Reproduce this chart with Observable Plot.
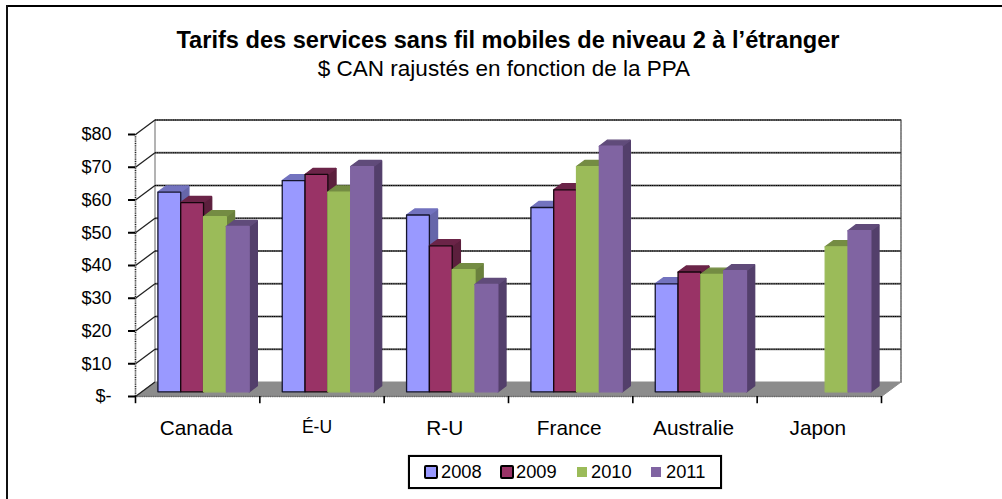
<!DOCTYPE html>
<html lang="fr">
<head>
<meta charset="utf-8">
<script src="https://cdn.jsdelivr.net/npm/d3@7"></script>
<script src="https://cdn.jsdelivr.net/npm/@observablehq/plot@0.6"></script>
<style>
  html, body { margin: 0; padding: 0; background: #fff; }
  body { width: 1002px; height: 499px; overflow: hidden; position: relative; font-family: "Liberation Sans", Arial, sans-serif; color: #000; }
  #edgeTop { position: absolute; left: 6px; right: 0; top: 5px; height: 2px; background: #000; }
  #edgeLeft { position: absolute; left: 6px; top: 5px; bottom: 0; width: 2px; background: #111; }
  #title { position: absolute; left: 8px; width: 1000px; top: 28px; text-align: center; font-weight: bold; font-size: 23.6px; line-height: 24px; white-space: nowrap; }
  #subtitle { position: absolute; left: 8px; width: 992px; top: 56px; text-align: center; font-size: 22.5px; line-height: 26px; white-space: nowrap; }
  #chart { position: absolute; left: 0; top: 100px; }
  #legend { position: absolute; left: 408px; top: 455px; width: 310px; height: 30px; border: 2px solid #000; box-shadow: 0 0 1px #777; font-size: 18.3px; }
  #legend span.item { position: absolute; top: 0; line-height: 30px; }
  #legend i { position: absolute; display: block; box-sizing: border-box; }
</style>
</head>
<body>
<div id="edgeTop"></div>
<div id="edgeLeft"></div>
<div id="title">Tarifs des services sans fil mobiles de niveau 2 à l’étranger</div>
<div id="subtitle">$ CAN rajustés en fonction de la PPA</div>
<div id="chart"></div>
<div id="legend"></div>
<script>
const countries = ["Canada", "É-U", "R-U", "France", "Australie", "Japon"];
const years = ["2008", "2009", "2010", "2011"];
const values2008 = [61, 64.5, 54, 56.3, 33, null];
const values2009 = [57.8, 66.4, 44.6, 61.7, 36.6, null];
const values2010 = [53.5, 61, 37.3, 68.8, 35.9, 44.3];
const values2011 = [50.5, 68.8, 32.8, 75, 37, 49.2];
const yTicks = [0, 10, 20, 30, 40, 50, 60, 70, 80];

const series = [values2008, values2009, values2010, values2011];
const frontColors = ["#9999FF", "#993366", "#9BBB59", "#8064A2"];
const topColors = ["#7373BF", "#6B2448", "#748C43", "#604B7A"];
const sideColors = ["#6666AA", "#5C1F3D", "#6A803D", "#533F6B"];
const outlines = ["#15152e", "#14060d", null, null];

// Depth projection: one unit of depth moves a point by this much in data units.
const depthX = 19.5 / 124.33, depthY = 14.5 / 3.275;
const px = (x, z) => x + z * depthX;
const pv = (v, z) => v + z * depthY;

const barStart = 0.13, barStep = 0.1835, zFront = 0.32, zBack = 0.74;

const faces = [];
function face(id, fill, stroke, corners) {
  [...corners, corners[0]].forEach(([x, v, z]) =>
    faces.push({id, fill, stroke: stroke || fill, x: px(x, z), y: pv(v, z)}));
}
countries.forEach((c, i) => {
  series.forEach((vals, s) => {
    const v = vals[i];
    if (v == null) return;
    const x1 = i + barStart + s * barStep, x2 = x1 + barStep;
    const id = c + years[s];
    face(id + "side", sideColors[s], sideColors[s], [[x2, 0, zFront], [x2, 0, zBack], [x2, v, zBack], [x2, v, zFront]]);
    face(id + "top", topColors[s], topColors[s], [[x1, v, zFront], [x2, v, zFront], [x2, v, zBack], [x1, v, zBack]]);
    face(id + "front", frontColors[s], outlines[s], [[x1, 0, zFront], [x2, 0, zFront], [x2, v, zFront], [x1, v, zFront]]);
  });
});

const floor = [[0, 0], [6, 0], [px(6, 1), pv(0, 1)], [px(0, 1), pv(0, 1)], [0, 0]];
const leftWall = [[px(0, 1), pv(0, 1)], [px(0, 1), pv(80, 1)]];
const rightWall = [[px(6, 1), pv(0, 1)], [px(6, 1), pv(80, 1)]];
const xTicks = d3.range(7);
const font = "'Liberation Sans', Arial, sans-serif";

const chart = Plot.plot({
  width: 1002,
  height: 330,
  marginLeft: 135,
  marginRight: 121,
  marginTop: 34,
  marginBottom: 34,
  style: {fontFamily: font, background: "transparent", overflow: "visible", color: "#000"},
  x: {domain: [0, 6], axis: null},
  y: {domain: [0, 80], axis: null},
  color: {type: "identity"},
  marks: [
    Plot.line(leftWall, {x: "0", y: "1", stroke: "#9a9a9a", strokeWidth: 1.5}),
    Plot.line(rightWall, {x: "0", y: "1", stroke: "#8a8a8a", strokeWidth: 2, strokeDasharray: "1 0.6"}),
    Plot.link(yTicks.slice(1), {x1: px(0, 1), x2: px(6, 1), y1: d => pv(d, 1), y2: d => pv(d, 1), stroke: "#777", strokeWidth: 2}),
    Plot.link(yTicks.slice(1), {x1: px(0, 1), x2: px(6, 1), y1: d => pv(d, 1), y2: d => pv(d, 1), stroke: "#000", strokeWidth: 1.2, strokeDasharray: "1.2 0.6"}),
    Plot.line(floor, {x: "0", y: "1", fill: "#8C8C8C", stroke: "#8C8C8C", strokeWidth: 1}),
    Plot.link(yTicks, {x1: 0, x2: px(0, 1), y1: d => d, y2: d => pv(d, 1), stroke: "#222", strokeWidth: 1.3}),
    Plot.ruleY([0], {x1: 0, x2: 6, stroke: "#666", strokeWidth: 1.6, strokeDasharray: "1 0.8"}),
    Plot.ruleX([0], {y1: 0, y2: 80, stroke: "#222", strokeWidth: 1.6, strokeDasharray: "1 0.8"}),
    Plot.line(faces, {x: "x", y: "y", z: "id", fill: "fill", stroke: "stroke", strokeWidth: 1.3, curve: "linear", strokeLinejoin: "miter"}),
    Plot.axisY({ticks: yTicks, tickSize: 7, tickPadding: 17, fontSize: 18, strokeWidth: 2, stroke: "#000", fill: "#000", label: null,
      tickFormat: d => d === 0 ? "$-" : "$" + d}),
    Plot.ruleX(xTicks, {y1: 0, y2: -2.2, stroke: "#000", strokeWidth: 1.6}),
    Plot.text(countries.filter(c => c !== "É-U"), {
      x: d => countries.indexOf(d) + 0.5, y: 0, dx: -1.5, dy: 32, text: d => d, fontSize: 20.8, fill: "#000"}),
    Plot.text(countries.filter(c => c === "É-U"), {
      x: d => countries.indexOf(d) + 0.5, y: 0, dx: -5, dy: 31, text: d => d, fontSize: 17.5, fill: "#000"})
  ]
});
document.getElementById("chart").appendChild(chart);

// Legend
const legend = d3.select("#legend");
const swatchLeft = [14, 90, 167, 241], textLeft = [31, 106, 181, 256];
years.forEach((y, s) => {
  const out = outlines[s];
  legend.append("i")
    .style("left", swatchLeft[s] + "px")
    .style("top", out ? "8px" : "9.5px")
    .style("width", out ? "14px" : "10px")
    .style("height", out ? "14px" : "10px")
    .style("background", frontColors[s])
    .style("border", out ? "2.5px solid #000" : "none")
    .style("border-radius", out ? "2px" : "0");
  legend.append("span").attr("class", "item").style("left", textLeft[s] + "px").text(y);
});
</script>
</body>
</html>
